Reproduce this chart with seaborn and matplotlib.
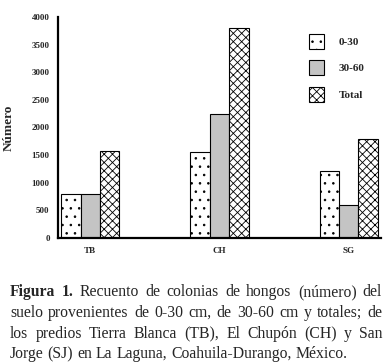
import numpy as np
import pandas as pd
import seaborn as sns
import matplotlib
matplotlib.use("Agg")
import matplotlib.pyplot as plt
from matplotlib.patches import Patch

# datos
sitios = ['TB', 'CH', 'SG']
profundidades = ['0-30', '30-60', 'Total']
v_0_30 = [800, 1550, 1200]
v_30_60 = [800, 2250, 600]
v_total = [1580, 3800, 1780]

df = pd.DataFrame({'sitio': sitios * 3,
                   'prof': np.repeat(profundidades, 3),
                   'n': v_0_30 + v_30_60 + v_total})

sns.set_style('white')
plt.rcParams['font.family'] = ['Liberation Serif', 'DejaVu Serif']
plt.rcParams['hatch.linewidth'] = 0.6

fig = plt.figure(figsize=(3.87, 3.64), dpi=100)
W, H = 387, 364
ax = fig.add_axes([58 / W, 1 - 237.7 / H, 323 / W, 220.7 / H])

orden = ['TB', ' ', 'CH', '  ', 'SG']
colores = ['white', '#c4c4c4', 'white']
hatches = ['..', '', 'xxxx']
sns.barplot(data=df, x='sitio', y='n', hue='prof', order=orden,
            hue_order=profundidades, palette=colores, saturation=1,
            width=0.9, edgecolor='black', linewidth=0.8, legend=False, ax=ax)
for cont, h in zip(ax.containers, hatches):
    for bar in cont:
        bar.set_hatch(h)

ax.set_xlim(-0.5, 4.5)
ax.set_ylim(0, 4000)
ax.set_yticks(range(0, 4001, 500))
ax.set_yticklabels([str(v) for v in range(0, 4001, 500)],
                   fontsize=6.5, fontweight='bold')
ax.set_xticks(np.arange(-0.5, 5, 1))
ax.set_xticklabels([])
ax.set_xticks([0, 2, 4], minor=True)
ax.set_xticklabels(sitios, minor=True, fontsize=6.5, fontweight='bold')
ax.tick_params(axis='x', which='major', direction='inout', length=4, width=1.2)
ax.tick_params(axis='x', which='minor', length=0, pad=7)
ax.tick_params(axis='y', direction='out', length=3, width=1.2, pad=3)
ax.set_xlabel('')
ax.set_ylabel('Número', fontsize=9.5, fontweight='bold', labelpad=12)

for s in ['top', 'right']:
    ax.spines[s].set_visible(False)
for s in ['left', 'bottom']:
    ax.spines[s].set_linewidth(1.6)
    ax.spines[s].set_color('black')

handles = [Patch(facecolor=c, edgecolor='black', hatch=h, linewidth=0.8)
           for c, h in zip(colores, hatches)]
ax.legend(handles, profundidades, loc='upper left', bbox_to_anchor=(0.745, 0.97),
          frameon=False, handlelength=1.4, handleheight=1.7, labelspacing=1.05,
          handletextpad=1.3, prop={'weight': 'bold', 'size': 8})

# pie de figura, justificado
lineas = [
    [('Figura', 'bold'), ('1.', 'bold'), ('Recuento', 'normal'), ('de', 'normal'),
     ('colonias', 'normal'), ('de', 'normal'), ('hongos', 'normal'),
     ('(número)', 'normal'), ('del', 'normal')],
    'suelo provenientes de 0-30 cm, de 30-60 cm y totales; de',
    'los predios Tierra Blanca (TB), El Chupón (CH) y San',
    'Jorge (SJ) en La Laguna, Coahuila-Durango, México.',
]
bases = [296, 317, 338, 358]
x0, x1 = 10, 382
fs = 11.3
rend = fig.canvas.get_renderer()
for k, (linea, yb) in enumerate(zip(lineas, bases)):
    if isinstance(linea, str):
        palabras = [(p, 'normal') for p in linea.split()]
    else:
        palabras = linea
    textos = [fig.text(0, 1 - yb / H, p, fontsize=fs, fontweight=w,
                       va='baseline', ha='left') for p, w in palabras]
    anchos = [t.get_window_extent(rend).width for t in textos]
    if k < len(lineas) - 1:
        gap = (x1 - x0 - sum(anchos)) / (len(anchos) - 1)
    else:
        gap = fs * 0.25 * 100 / 72
    x = x0
    for t, a in zip(textos, anchos):
        t.set_x(x / W)
        x += a + gap

fig.savefig('out.png', dpi=100)
